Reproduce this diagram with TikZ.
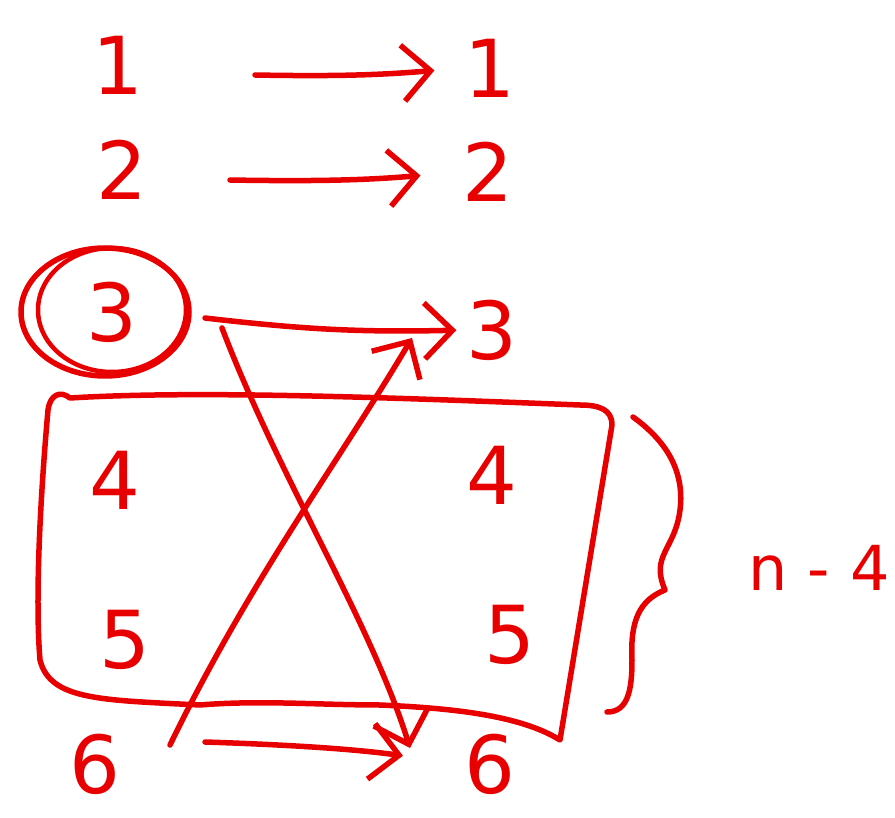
\documentclass[tikz,border=0pt]{standalone}
\usepackage{fontspec}
\setmainfont{DejaVu Sans}
\usetikzlibrary{arrows.meta}
\definecolor{ink}{RGB}{232,0,0}
\begin{document}
\begin{tikzpicture}[x=1pt,y=-1pt,
  pen/.style={draw=ink,line width=5.5pt,line cap=round,line join=round},
  num/.style={text=ink,font=\fontsize{80}{80}\selectfont,inner sep=2pt},
  arr/.style={pen,-{Straight Barb[length=28pt,width=56pt,line width=5.5pt]}}]
\useasboundingbox (0,0) rectangle (895,818);
% numbers
\node[num] (l1) at (118,65) {1};
\node[num] (r1) at (490,68) {1};
\node[num] (l2) at (122,170) {2};
\node[num] (r2) at (488,172) {2};
\node[num] (l3) at (112,312) {3};
\node[num] (r3) at (492,330) {3};
\node[num] (l4) at (115,480) {4};
\node[num] (r4) at (492,475) {4};
\node[num] (l5) at (125,640) {5};
\node[num] (r5) at (510,635) {5};
\node[num] (l6) at (95,764) {6};
\node[num] (r6) at (490,764) {6};
\node[text=ink,font=\fontsize{62}{62}\selectfont,anchor=east] (lab) at (893,568) {n - 4};
% circle around 3
\draw[pen] (105,312) ellipse [x radius=84,y radius=64];
\draw[pen,line width=4.5pt] (112,310) ellipse [x radius=74,y radius=62];
% straight arrows
\draw[arr,shorten >=28pt] (255,75) coordinate (s1) to[bend left=-3] (r1.west);
\draw[arr,shorten >=40pt] (230,180) coordinate (s2) to[bend right=3] (r2.west);
\draw[arr,shorten >=8pt] (205,318) coordinate (s3) to[bend left=-4] (r3.west);
\draw[arr,shorten >=60pt] (205,742) coordinate (s6) to[bend left=3] (r6.west);
% cross arrows
\coordinate (c1) at (222,328);
\coordinate (c2) at (410,748);
\coordinate (c3) at (170,745);
\coordinate (c4) at (412,338);
\draw[arr] (c1) .. controls (280,480) and (370,620) .. (c2);
\draw[arr] (c3) .. controls (250,580) and (340,460) .. (c4);
% box
\draw[pen] (70,398) .. controls (60,390) and (50,395) .. (48,410)
  .. controls (40,500) and (35,600) .. (40,660)
  .. controls (50,700) and (100,700) .. (200,705)
  .. controls (260,700) and (320,705) .. (380,705)
  .. controls (450,708) and (520,715) .. (560,740)
  -- (612,425) .. controls (612,410) and (600,405) .. (580,405)
  .. controls (400,398) and (200,390) .. (70,398);
% brace
\draw[pen] (633,417) .. controls (665,440) and (685,470) .. (680,510)
  .. controls (675,550) and (650,555) .. (665,590)
  .. controls (640,600) and (630,620) .. (632,660)
  .. controls (632,690) and (628,712) .. (607,712);
\end{tikzpicture}
\end{document}
